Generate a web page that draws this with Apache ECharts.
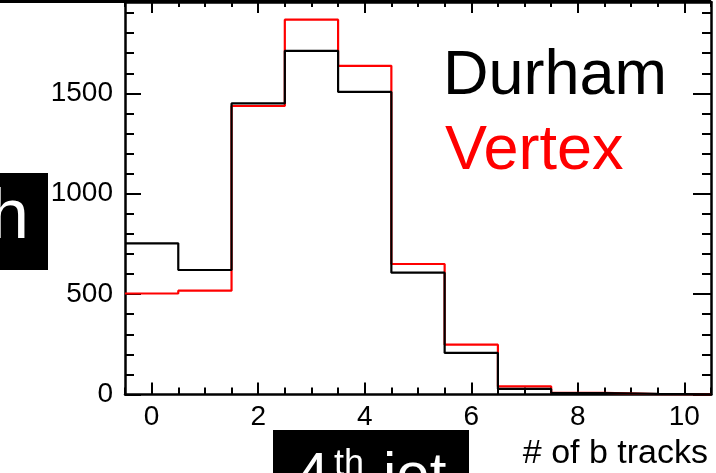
<!DOCTYPE html>
<html><head><meta charset="utf-8">
<script src="https://cdn.jsdelivr.net/npm/echarts@6/dist/echarts.min.js"></script>
<style>html,body{margin:0;padding:0;background:#fff}#c{width:716px;height:473px}</style>
</head><body><div id="c"></div>
<script>
const binCenters = [0, 1, 2, 3, 4, 5, 6, 7, 8, 9, 10];
const durham = [753, 620, 1450, 1712, 1507, 607, 207, 28, 7, 3, 1];
const vertex = [503, 517, 1437, 1867, 1637, 650, 248, 40, 8, 2, 1];
const xMajorTicks = [0, 2, 4, 6, 8, 10];
const yMajorTicks = [0, 500, 1000, 1500];
const xTitle = '# of b tracks';

function steps(vals) {
  const d = vals.map((v, i) => [binCenters[i] - 0.5, v]);
  d.push([binCenters[binCenters.length - 1] + 0.5, vals[vals.length - 1]]);
  return d;
}
const FONT = 'Liberation Sans, Arial, Helvetica, sans-serif';
const XMIN = -0.5, XMAX = 10.5, YMIN = 0, YMAX = 1955;
const lineStyle = {color: '#000', width: 2.5};

function xAx(pos, major, len, labels) {
  const a = {
    type: 'value', position: pos, min: XMIN, max: XMAX,
    splitLine: {show: false},
    axisLine: {show: major, onZero: false, lineStyle: lineStyle},
    axisTick: {show: true, inside: true, length: len, lineStyle: {color: '#000', width: 2}},
    axisLabel: {show: false}
  };
  if (major) {
    a.axisTick.customValues = xMajorTicks;
    if (labels) {
      a.axisLabel = {show: true, customValues: xMajorTicks, formatter: v => String(v), color: '#000', fontSize: 28, fontFamily: FONT, margin: 9};
    }
  } else {
    a.interval = 0.5;
  }
  return a;
}
function yAx(pos, major, len, labels) {
  const a = {
    type: 'value', position: pos, min: YMIN, max: YMAX,
    splitLine: {show: false},
    axisLine: {show: major, onZero: false, lineStyle: lineStyle},
    axisTick: {show: true, inside: true, length: len, lineStyle: {color: '#000', width: 2}},
    axisLabel: {show: false}
  };
  if (major) {
    a.axisTick.customValues = yMajorTicks;
    if (labels) {
      a.axisLabel = {show: true, customValues: yMajorTicks, formatter: v => String(v), color: '#000', fontSize: 28, fontFamily: FONT, margin: 12};
    }
  } else {
    a.interval = 100;
  }
  return a;
}

const chart = echarts.init(document.getElementById('c'), null, {renderer: 'canvas'});
chart.setOption({
  animation: false,
  backgroundColor: '#fff',
  grid: {left: 125, right: 5, top: 2, bottom: 78.5, containLabel: false},
  xAxis: [xAx('bottom', true, 12, true), xAx('bottom', false, 7, false), xAx('top', true, 11, false), xAx('top', false, 5, false)],
  yAxis: [yAx('left', true, 16, true), yAx('left', false, 9, false), yAx('right', true, 18, false), yAx('right', false, 9, false)],
  series: [
    {name: 'Vertex', type: 'line', step: 'end', data: steps(vertex), symbol: 'none', xAxisIndex: 0, yAxisIndex: 0,
     lineStyle: {color: '#ff0000', width: 2.2}, z: 2},
    {name: 'Durham', type: 'line', step: 'end', data: steps(durham), symbol: 'none', xAxisIndex: 0, yAxisIndex: 0,
     lineStyle: {color: '#000000', width: 2.2}, z: 3}
  ],
  graphic: [
    {type: 'rect', shape: {x: 0, y: 0, width: 711, height: 3}, style: {fill: '#000'}, z: 100},
    {type: 'rect', shape: {x: 0, y: 173, width: 48, height: 97}, style: {fill: '#000'}, z: 100},
    {type: 'text', x: 29, y: 218, style: {text: 'h', fill: '#fff', fontSize: 71, fontFamily: FONT, align: 'right', verticalAlign: 'middle'}, z: 101},
    {type: 'rect', shape: {x: 273, y: 430, width: 196, height: 43}, style: {fill: '#000'}, z: 100},
    {type: 'text', x: 296, y: 477, style: {text: '4', fill: '#fff', fontSize: 60, fontFamily: FONT, align: 'left', verticalAlign: 'middle'}, z: 101},
    {type: 'text', x: 334, y: 465.5, style: {text: 'th', fill: '#fff', fontSize: 36, fontFamily: FONT, align: 'left', verticalAlign: 'middle'}, z: 101},
    {type: 'text', x: 383, y: 477, style: {text: 'jet', fill: '#fff', fontSize: 60, fontFamily: FONT, align: 'left', verticalAlign: 'middle'}, z: 101},
    {type: 'text', x: 443, y: 77, style: {text: 'Durham', fill: '#000', fontSize: 63, fontFamily: FONT, align: 'left', verticalAlign: 'middle'}, z: 101},
    {type: 'text', x: 445, y: 152, style: {text: 'Vertex', fill: '#ff0000', fontSize: 63, fontFamily: FONT, align: 'left', verticalAlign: 'middle'}, z: 101},
    {type: 'text', x: 708, y: 454, style: {text: xTitle, fill: '#000', fontSize: 34, fontFamily: FONT, align: 'right', verticalAlign: 'middle'}, z: 101}
  ]
});
</script>
</body></html>
